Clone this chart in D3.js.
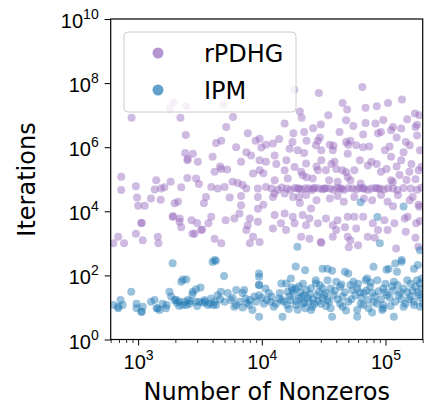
<!DOCTYPE html>
<html><head><meta charset="utf-8">
<script src="https://cdn.jsdelivr.net/npm/d3@7/dist/d3.min.js"></script>
<style>html,body{margin:0;padding:0;background:#fff;} svg{display:block;font-family:"DejaVu Sans",sans-serif;}</style>
</head><body><svg id="chart" width="427" height="406"></svg>
<script>
const seriesNames = ["rPDHG", "IPM"];
const seriesColors = ["#9467bd", "#1f77b4"];
const xTickValues = [1e3, 1e4, 1e5];
const yTickValues = [1, 1e2, 1e4, 1e6, 1e8, 1e10];
const xLabel = "Number of Nonzeros";
const yLabel = "Iterations";

// rPDHG: [nonzeros, iterations]
const rpdhgPoints = [
[885,8.3e6],[1920,2.5e7],[1800,1.6e7],[2460,1.9e7],[2200,8.3e6],[4900,2.1e7],[5850,8.7e6],[5150,4.3e6],[7700,2.7e6],[2430,2.4e6],
[18300,6.2e7],[28900,4.9e7],[65000,7.6e7],[136000,3.1e7],[45000,2.4e7],[49000,1.5e7],[69000,1.7e7],[85000,1.9e7],[105000,2.4e7],[173000,1.13e7],
[188000,1.0e7],[150000,7.4e6],[20300,1.3e7],[21000,8.3e6],[30000,5.1e6],[34500,1.0e7],[48000,6.9e6],[55000,4.6e6],[69000,5.7e6],[83000,5.5e6],
[96000,7.1e6],[115000,4.3e6],[175000,4.3e6],[180000,5.0e6],[26000,3.9e6],[15300,5.5e6],[22000,3.0e6],[42500,3.0e6],[18000,2.7e6],[111000,3.4e6],
[134000,3.8e6],[92000,3.0e6],[8900,1.6e6],[4700,1.6e6],[9600,1.85e6],[10800,1.2e6],[12300,1.3e6],[13800,1.8e6],[17700,1.45e6],[23000,1.6e6],
[28400,1.6e6],[29500,2.0e6],[38000,1.1e6],[48000,1.45e6],[52000,1.6e6],[66000,2.5e6],[87000,2.7e6],[123000,2.0e6],[180000,2.3e6],[146000,1.45e6],
[157000,1.15e6],[4270,1.35e6],[6200,1.0e6],[27400,1.15e6],[35500,1.2e6],[50000,1.2e6],[58000,1.15e6],[66000,1.0e6],[74000,1.05e6],[108000,1.05e6],
[2400,6.6e5],[2770,6.3e5],[2500,3.9e5],[3040,3.5e5],[2520,4.4e5],[4000,5.0e5],[7500,7.0e5],[8200,5.5e5],[9900,9.8e5],[6800,3.5e5],
[9600,3.9e5],[10800,3.5e5],[12700,5.5e5],[13100,3.0e5],[15800,3.9e5],[16800,9.0e5],[19500,8.0e5],[22000,6.6e5],[30300,8.0e5],[37500,8.0e5],
[49500,6.3e5],[38700,3.5e5],[22800,3.1e5],[30300,3.9e5],[36500,3.0e5],[62000,3.9e5],[77000,3.5e5],[111000,5.0e5],[134000,3.9e5],[140000,7.0e5],
[99000,8.0e5],[190000,8.0e5],[85000,3.0e5],[162000,3.0e5],[195000,2.4e5],[72000,2.7e5],[123000,2.5e5],[2500,1.1e5],[2940,1.05e5],[4150,1.7e5],
[4700,2.1e5],[5250,2.0e5],[4600,2.5e5],[8500,1.5e5],[9600,1.9e5],[10300,1.55e5],[15300,1.9e5],[18400,2.4e5],[20800,1.7e5],[23000,1.15e5],
[27700,2.5e5],[28400,1.9e5],[33000,1.9e5],[40000,2.1e5],[45000,1.9e5],[48000,1.65e5],[49500,1.18e5],[56000,1.9e5],[92000,1.7e5],[102000,2.1e5],
[130000,1.35e5],[156000,1.7e5],[185000,1.9e5],[148000,9.5e4],[175000,1.0e5],[16200,1.05e5],[21400,1.33e5],[25800,1.05e5],[1400,9.3e4],[730,1.2e5],
[12700,9.3e4],[35000,9.3e4],[41000,8.3e4],[52000,9.3e4],[63000,7.4e4],[111000,9.3e4],[115000,8.2e4],[1830,8.3e4],[5800,8.3e4],[6400,7.7e4],
[3100,7.1e4],[7000,6.6e4],[960,6.0e4],[730,4.6e4],[1360,4.8e4],[1530,5.1e4],[1630,5.6e4],[2230,5.6e4],[3900,5.7e4],[4400,5.1e4],
[5000,5.7e4],[7500,5.1e4],[9300,5.1e4],[10800,5.7e4],
[12000,5.1e4],[13500,4.7e4],[14500,5.5e4],[16000,5.1e4],[17000,4.6e4],[18500,5.3e4],[19500,5.1e4],[21000,4.8e4],[22500,5.2e4],[24000,5.1e4],
[25500,4.6e4],[27000,5.4e4],[29000,5.1e4],[31000,4.9e4],[33000,5.2e4],[35500,5.1e4],[38000,4.7e4],[40500,5.3e4],[43000,5.1e4],[46000,4.6e4],
[50000,5.2e4],[54000,5.1e4],[58000,4.8e4],[62000,5.3e4],[67000,5.1e4],[72000,4.6e4],[77000,5.1e4],[83000,5.3e4],[90000,5.1e4],[97000,4.8e4],
[105000,5.2e4],[115000,5.1e4],[125000,4.6e4],[140000,5.3e4],[160000,5.1e4],[180000,4.7e4],[195000,5.4e4],[20000,5.1e4],[26000,5.1e4],[32000,5.1e4],
[44000,5.1e4],[66000,5.1e4],[86000,5.1e4],
[12700,3.6e4],[15300,3.6e4],[20000,2.8e4],[22800,3.2e4],[41000,3.0e4],[56000,2.8e4],[67000,2.5e4],[92000,3.2e4],[104000,2.0e4],[126000,3.2e4],
[166000,2.8e4],[188000,1.38e4],[25000,1.23e4],[980,2.7e4],[1000,1.5e4],[1130,1.5e4],[1270,2.5e4],[1520,2.3e4],[1970,1.77e4],[2100,2.0e4],
[3540,2.8e4],[5500,2.7e4],[6800,3.0e4],[9300,2.8e4],[3400,1.77e4],[6800,1.55e4],[9300,1.2e4],[10300,1.6e4],[12300,2.8e4],[17900,2.8e4],
[20300,1.8e4],[27700,2.2e4],[35500,2.5e4],[46000,2.0e4],[78000,2.2e4],[157000,2.2e4],[185000,1.6e4],[115000,1.45e4],
[1900,6.7e3],[2160,4.7e3],[2230,3.2e3],[1060,4.3e3],[960,2.0e3],[690,1.6e3],[770,1.0e3],[630,1.0e3],[1090,1.26e3],[1440,1.6e3],
[1460,1.0e3],[2700,5.3e3],[3230,2.6e3],[3300,2.7e3],[2860,2.0e3],[3900,6.7e3],[3000,4.3e3],[3700,4.2e3],[5100,5.3e3],[6000,6.0e3],
[6600,8.5e3],[8000,6.0e3],[7700,3.7e3],[9300,4.7e3],[4150,1.4e3],[4700,1.0e3],[8000,1.0e3],[9600,1.1e3],[7500,2.6e3],[8500,1.6e3],
[12700,7.6e3],[15300,8.5e3],[17800,6.7e3],[21400,7.6e3],[24300,6.0e3],[33000,6.0e3],[41000,5.3e3],[49500,6.7e3],[14300,4.2e3],[18400,4.2e3],
[22800,3.7e3],[28400,4.2e3],[37500,3.7e3],[47000,3.2e3],[12300,2.9e3],[15700,2.6e3],[20800,1.6e3],[24300,1.4e3],[30000,1.1e3],[37500,1.6e3],
[49500,1.6e3],[56000,6.7e3],[79000,4.2e3],[98000,5.3e3],[118000,4.2e3],[151000,6.7e3],[177000,4.2e3],[58000,2.9e3],[72000,1.6e3],[104000,2.6e3],
[146000,2.3e3],[52000,1.26e3],[60000,8.7e2],[122000,6.9e2],[184000,7.8e2],[66000,6.8e3],[50500,7.5e2],[40000,2.6e3],[175000,1.5e3],[82000,1.5e3],
[190000,5.0e3],[143000,6.0e3],[87000,2.6e3],[30300,1.05e3],[1070,4.3e3],[1920,7.0e3],[2170,6.0e3],[2750,2.0e3]
];

// IPM: [nonzeros, iterations]
const ipmPoints = [
[1900,240],[880,31],[720,17],[630,12],[690,9.4],[750,12],[970,13],[970,9.4],[1060,7.4],[1090,10.5],
[1270,15],[1360,17],[1440,9.4],[1490,8.3],[1580,13],[1680,9.4],[1790,31],[1850,22],[1970,17],[2160,15],
[2230,63],[2300,75],[2450,75],[2370,15],[2520,17],[2600,13],[2770,31],[2940,37],[3200,42],[2940,15],
[3140,15],[3450,17],[3660,12],[3900,19],[4000,260],[4150,300],[4150,15],[4270,12],[690,10.5],[1070,7.4],
[1410,9.4],[2750,26],[2040,17],[1700,12],[2460,12],[3460,15],[4050,12],[2050,14],[2300,12],[2650,16],
[3000,11],[3350,14],[3800,13],[2150,11],
[4950,95],[4250,285],[6200,35],[4660,31],[5300,28],[4400,24],[5600,17],[6200,12],[7000,28],[7400,19],
[7900,12],[8400,8.4],[7200,35],[9500,115],[9500,90],[9500,50],[9500,50],[9500,24],[9500,5.1],[10700,39],
[9000,15],[10400,13],[11400,28],[11800,15],[12500,10.5],[13800,19],[14700,5.1],[15700,56],[17200,80],[18800,190],
[22400,146],[19400,780],[16200,31],[17700,35],[18800,39],[16700,22],[20000,19],[22000,24],[18800,12],[21300,13],
[24000,15],[25600,10.5],[27300,56],[27300,71],[29000,31],[31000,19],[25000,8.4],
[5000,15],[5800,20],[6600,15],[7000,10],[8000,17],[8700,22],[10000,20],[11000,17],[12000,22],[13000,13],
[14000,28],[14500,17],[6000,10.5],[4600,18],[7600,14],[14400,56],[31000,160],
[15000,15],[16000,12],[17000,17],[18000,27],[19000,16],[20500,30],[21000,22],[22000,14],[23000,35],[23500,20],
[24500,26],[26000,18],[26500,13],[28000,24],[28500,16],[30000,13],[31000,40],[32000,24],[33000,11],[34000,17],
[20000,45],[25000,40],[17500,42],[22500,9.5],[19500,8.5],[16500,9],[21500,55],[29500,50],
[80000,185],[120000,235],[135000,265],[190000,610],[90000,1000],[140000,14000],[86000,6600],[63000,19000],[34000,160],[37000,140],
[47000,130],[50000,115],[71000,80],[106000,160],[124000,130],[170000,160],[180000,71],[197000,80],[34000,71],[40000,63],
[55000,63],[69000,71],[86000,71],[117000,63],[150000,71],[36000,39],[43000,44],[52000,50],[59000,39],[75000,44],
[96000,39],[113000,46],[140000,39],[175000,44],[197000,39],[33000,28],[38000,24],[45000,22],[57000,24],[67000,28],
[82000,22],[103000,24],[128000,24],[160000,22],[186000,24],[35000,15],[43000,13],[50000,15],[63000,13],[80000,15],
[96000,12],[120000,15],[145000,13],[170000,15],[36000,9.4],[45000,10.5],[59000,8.4],[73000,9.4],[94000,8.4],[140000,10.5],
[190000,10.5],[37000,5.1],[59000,5.1],[96000,9.4],[117000,5.1],[170000,12],[183000,210],[135000,300],[102000,150],
[39000,33],[47000,30],[54000,35],[62000,30],[64000,20],[70000,33],[78000,28],[88000,32],[92000,18],[100000,30],
[108000,20],[115000,33],[132000,30],[150000,30],[165000,33],[182000,30],[195000,20],[41000,18],[53000,18],[72000,17],
[85000,13],[110000,11],[155000,18],[200000,13],[48000,8],[66000,12],[78000,7],[135000,18],[60000,55],[76000,60],
[100000,55],[125000,50],[160000,55],[44000,52],[190000,56]
];

const series = [rpdhgPoints, ipmPoints];

const svg = d3.select("#chart");
const L = 110.7, R = 422.7, T = 19, B = 339.5;
const x = d3.scaleLog().domain([600, 2e5]).range([L, R]);
const y = d3.scaleLog().domain([1, 1e10]).range([B, T]);

svg.append("defs").append("clipPath").attr("id", "plotclip")
  .append("rect").attr("x", L).attr("y", T).attr("width", R - L).attr("height", B - T);

// points
const plot = svg.append("g").attr("clip-path", "url(#plotclip)");
series.forEach((pts, i) => {
  plot.append("g").selectAll("circle").data(pts).join("circle")
    .attr("cx", d => x(d[0])).attr("cy", d => y(d[1])).attr("r", 4)
    .attr("fill", seriesColors[i]).attr("fill-opacity", 0.45);
});

// x axis
const xMinor = [];
[100, 1000, 10000, 100000].forEach(b => { for (let k = 2; k <= 9; k++) { const v = b * k; if (v >= 600 && v <= 2e5) xMinor.push(v); } });
svg.append("g").attr("transform", `translate(0,${B})`)
  .call(d3.axisBottom(x).tickValues(xMinor).tickSize(3.5).tickFormat(""))
  .call(g => g.select(".domain").remove())
  .call(g => g.selectAll("line").attr("stroke", "#000").attr("stroke-width", 0.8));
const xAx = svg.append("g").attr("transform", `translate(0,${B})`)
  .call(d3.axisBottom(x).tickValues(xTickValues).tickSize(6).tickFormat(""));
xAx.select(".domain").remove();
xAx.selectAll("line").attr("stroke", "#000").attr("stroke-width", 1);
xAx.selectAll(".tick").each(function(d) {
  const t = d3.select(this).append("text").attr("y", 29).attr("text-anchor", "middle")
    .attr("fill", "#000").attr("font-size", 20);
  t.append("tspan").text("10");
  t.append("tspan").attr("dy", -9).attr("font-size", 14).text(Math.round(Math.log10(d)));
});

// y axis
const yAx = svg.append("g").attr("transform", `translate(${L},0)`)
  .call(d3.axisLeft(y).tickValues(yTickValues).tickSize(6).tickFormat(""));
yAx.select(".domain").remove();
yAx.selectAll("line").attr("stroke", "#000").attr("stroke-width", 1);
yAx.selectAll(".tick").each(function(d) {
  const t = d3.select(this).append("text").attr("x", -12).attr("y", 8.5).attr("text-anchor", "end")
    .attr("fill", "#000").attr("font-size", 20);
  t.append("tspan").text("10");
  t.append("tspan").attr("dy", -9).attr("font-size", 14).text(Math.round(Math.log10(d)));
});

// frame
svg.append("rect").attr("x", L).attr("y", T).attr("width", R - L).attr("height", B - T)
  .attr("fill", "none").attr("stroke", "#000").attr("stroke-width", 1.2);

// titles
svg.append("text").attr("x", (L + R) / 2).attr("y", 400).attr("text-anchor", "middle")
  .attr("font-size", 24).attr("fill", "#000").text(xLabel);
svg.append("text").attr("transform", "translate(35,179.5) rotate(-90)").attr("text-anchor", "middle")
  .attr("font-size", 24).attr("fill", "#000").text(yLabel);

// legend
const lg = svg.append("g");
lg.append("rect").attr("x", 124).attr("y", 32).attr("width", 172).attr("height", 80).attr("rx", 4)
  .attr("fill", "#fff").attr("fill-opacity", 0.8).attr("stroke", "#cccccc").attr("stroke-width", 1);
seriesNames.forEach((n, i) => {
  const cy = 53 + i * 37;
  lg.append("circle").attr("cx", 158).attr("cy", cy).attr("r", 5.5)
    .attr("fill", seriesColors[i]).attr("fill-opacity", 0.7);
  lg.append("text").attr("x", 204).attr("y", cy + 8.5).attr("font-size", 24).attr("fill", "#000").text(n);
});
</script></body></html>
